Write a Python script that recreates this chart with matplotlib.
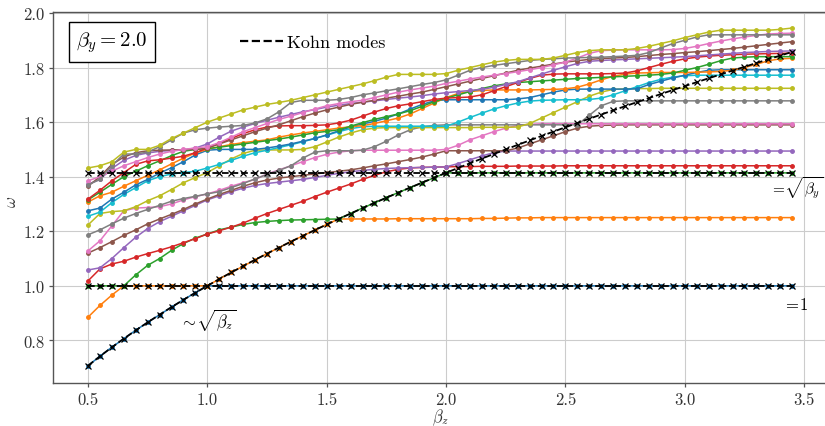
import numpy as np
import matplotlib
matplotlib.use("Agg")
import matplotlib.pyplot as plt
from matplotlib.lines import Line2D

plt.rcParams["font.family"] = "cmr10"
plt.rcParams["mathtext.fontset"] = "cm"
plt.rcParams["axes.unicode_minus"] = False
plt.rcParams["axes.formatter.use_mathtext"] = True

# trap anisotropy and sweep of beta_z
beta_y = 2.0
beta_z = np.linspace(0.5, 3.45, 60)

# collective mode frequencies omega(beta_z), one list per mode index
mode_00 = [0.707, 0.742, 0.775, 0.806, 0.837, 0.866, 0.894, 0.922, 0.949, 0.975,
           1.0, 1.0, 1.0, 1.0, 1.0, 1.0, 1.0, 1.0, 1.0, 1.0,
           1.0, 1.0, 1.0, 1.0, 1.0, 1.0, 1.0, 1.0, 1.0, 1.0,
           1.0, 1.0, 1.0, 1.0, 1.0, 1.0, 1.0, 1.0, 1.0, 1.0,
           1.0, 1.0, 1.0, 1.0, 1.0, 1.0, 1.0, 1.0, 1.0, 1.0,
           1.0, 1.0, 1.0, 1.0, 1.0, 1.0, 1.0, 1.0, 1.0, 1.0]
mode_01 = [0.885, 0.928, 0.966, 1.0, 1.0, 1.0, 1.0, 1.0, 1.0, 1.0,
           1.0, 1.025, 1.049, 1.072, 1.095, 1.118, 1.140, 1.162, 1.183, 1.204,
           1.225, 1.245, 1.245, 1.245, 1.245, 1.245, 1.246, 1.246, 1.246, 1.246,
           1.246, 1.246, 1.246, 1.247, 1.247, 1.248, 1.249, 1.249, 1.25, 1.25,
           1.25, 1.25, 1.25, 1.25, 1.25, 1.25, 1.25, 1.25, 1.25, 1.25,
           1.25, 1.25, 1.25, 1.25, 1.25, 1.25, 1.25, 1.25, 1.25, 1.25]
mode_02 = [1.0, 1.0, 1.0, 1.0, 1.04, 1.075, 1.10, 1.13, 1.155, 1.175,
           1.19, 1.205, 1.215, 1.225, 1.232, 1.236, 1.239, 1.241, 1.242, 1.243,
           1.244, 1.245, 1.265, 1.285, 1.304, 1.323, 1.342, 1.360, 1.378, 1.396,
           1.414, 1.414, 1.414, 1.414, 1.414, 1.414, 1.414, 1.414, 1.414, 1.414,
           1.414, 1.414, 1.414, 1.414, 1.414, 1.414, 1.414, 1.414, 1.414, 1.414,
           1.414, 1.414, 1.414, 1.414, 1.414, 1.414, 1.414, 1.414, 1.414, 1.414]
mode_03 = [1.018, 1.062, 1.08, 1.09, 1.105, 1.118, 1.13, 1.143, 1.158, 1.173,
           1.19, 1.202, 1.215, 1.23, 1.248, 1.265, 1.28, 1.295, 1.31, 1.327,
           1.343, 1.358, 1.373, 1.39, 1.405, 1.418, 1.427, 1.432, 1.434, 1.435,
           1.436, 1.437, 1.437, 1.438, 1.438, 1.438, 1.439, 1.439, 1.439, 1.439,
           1.44, 1.44, 1.44, 1.44, 1.44, 1.44, 1.44, 1.44, 1.44, 1.44,
           1.44, 1.44, 1.44, 1.44, 1.44, 1.44, 1.44, 1.44, 1.44, 1.44]
mode_04 = [1.058, 1.066, 1.10, 1.14, 1.178, 1.21, 1.235, 1.255, 1.275, 1.295,
           1.315, 1.33, 1.345, 1.358, 1.368, 1.375, 1.38, 1.385, 1.39, 1.397,
           1.405, 1.412, 1.418, 1.423, 1.427, 1.43, 1.432, 1.433, 1.434, 1.435,
           1.436, 1.448, 1.462, 1.476, 1.488, 1.494, 1.494, 1.494, 1.494, 1.494,
           1.494, 1.494, 1.494, 1.494, 1.494, 1.494, 1.494, 1.494, 1.494, 1.494,
           1.494, 1.494, 1.494, 1.494, 1.494, 1.494, 1.494, 1.494, 1.494, 1.494]
mode_05 = [1.12, 1.14, 1.162, 1.185, 1.205, 1.227, 1.245, 1.262, 1.28, 1.30,
           1.318, 1.335, 1.35, 1.365, 1.378, 1.388, 1.395, 1.40, 1.405, 1.41,
           1.415, 1.42, 1.425, 1.432, 1.44, 1.447, 1.455, 1.463, 1.472, 1.483,
           1.495, 1.495, 1.495, 1.495, 1.495, 1.495, 1.505, 1.52, 1.535, 1.55,
           1.565, 1.578, 1.585, 1.588, 1.589, 1.59, 1.59, 1.59, 1.59, 1.59,
           1.59, 1.59, 1.59, 1.59, 1.59, 1.59, 1.59, 1.59, 1.59, 1.59]
mode_06 = [1.128, 1.165, 1.22, 1.275, 1.285, 1.287, 1.29, 1.30, 1.315, 1.327,
           1.337, 1.35, 1.365, 1.378, 1.39, 1.41, 1.425, 1.44, 1.455, 1.47,
           1.482, 1.49, 1.495, 1.497, 1.497, 1.497, 1.497, 1.497, 1.497, 1.497,
           1.50, 1.515, 1.535, 1.55, 1.565, 1.578, 1.588, 1.592, 1.594, 1.594,
           1.594, 1.594, 1.594, 1.594, 1.594, 1.594, 1.594, 1.594, 1.594, 1.594,
           1.594, 1.594, 1.594, 1.594, 1.594, 1.594, 1.594, 1.594, 1.594, 1.594]
mode_07 = [1.187, 1.205, 1.227, 1.248, 1.265, 1.28, 1.295, 1.31, 1.32, 1.328,
           1.337, 1.345, 1.36, 1.375, 1.392, 1.408, 1.423, 1.44, 1.468, 1.49,
           1.495, 1.495, 1.495, 1.497, 1.51, 1.53, 1.553, 1.572, 1.583, 1.588,
           1.59, 1.59, 1.59, 1.59, 1.59, 1.59, 1.59, 1.59, 1.59, 1.59,
           1.59, 1.59, 1.625, 1.66, 1.676, 1.678, 1.678, 1.678, 1.678, 1.678,
           1.678, 1.678, 1.678, 1.678, 1.678, 1.678, 1.678, 1.678, 1.678, 1.678]
mode_08 = [1.223, 1.265, 1.272, 1.275, 1.29, 1.312, 1.33, 1.353, 1.378, 1.397,
           1.415, 1.44, 1.465, 1.485, 1.497, 1.498, 1.498, 1.498, 1.50, 1.51,
           1.527, 1.545, 1.56, 1.572, 1.578, 1.58, 1.58, 1.58, 1.58, 1.58,
           1.58, 1.58, 1.58, 1.581, 1.581, 1.581, 1.582, 1.595, 1.615, 1.635,
           1.655, 1.675, 1.695, 1.71, 1.72, 1.722, 1.723, 1.723, 1.724, 1.724,
           1.724, 1.724, 1.724, 1.724, 1.724, 1.724, 1.724, 1.724, 1.724, 1.724]
mode_09 = [1.255, 1.27, 1.305, 1.335, 1.36, 1.385, 1.40, 1.41, 1.415, 1.42,
           1.432, 1.445, 1.46, 1.475, 1.488, 1.497, 1.507, 1.517, 1.528, 1.54,
           1.552, 1.565, 1.576, 1.583, 1.585, 1.585, 1.585, 1.585, 1.585, 1.585,
           1.585, 1.60, 1.617, 1.633, 1.648, 1.66, 1.67, 1.677, 1.68, 1.681,
           1.682, 1.682, 1.683, 1.688, 1.70, 1.715, 1.73, 1.745, 1.757, 1.765,
           1.77, 1.772, 1.772, 1.772, 1.772, 1.772, 1.772, 1.772, 1.772, 1.772]
mode_10 = [1.275, 1.285, 1.318, 1.343, 1.37, 1.39, 1.413, 1.433, 1.455, 1.48,
           1.497, 1.50, 1.50, 1.50, 1.50, 1.505, 1.512, 1.52, 1.53, 1.54,
           1.553, 1.568, 1.582, 1.593, 1.603, 1.615, 1.63, 1.648, 1.665, 1.678,
           1.682, 1.682, 1.682, 1.682, 1.682, 1.682, 1.685, 1.69, 1.70, 1.71,
           1.718, 1.721, 1.721, 1.721, 1.721, 1.721, 1.722, 1.738, 1.75, 1.762,
           1.772, 1.782, 1.79, 1.792, 1.792, 1.792, 1.792, 1.792, 1.792, 1.792]
mode_11 = [1.307, 1.33, 1.343, 1.365, 1.385, 1.405, 1.425, 1.447, 1.468, 1.487,
           1.50, 1.51, 1.518, 1.525, 1.53, 1.535, 1.545, 1.553, 1.56, 1.566,
           1.572, 1.578, 1.583, 1.587, 1.595, 1.605, 1.615, 1.63, 1.65, 1.67,
           1.69, 1.705, 1.712, 1.716, 1.718, 1.718, 1.718, 1.718, 1.719, 1.72,
           1.722, 1.728, 1.74, 1.755, 1.768, 1.776, 1.78, 1.781, 1.782, 1.782,
           1.782, 1.783, 1.784, 1.786, 1.79, 1.80, 1.812, 1.825, 1.832, 1.834]
mode_12 = [1.315, 1.343, 1.372, 1.40, 1.42, 1.44, 1.458, 1.477, 1.493, 1.50,
           1.503, 1.508, 1.514, 1.52, 1.526, 1.532, 1.538, 1.545, 1.553, 1.561,
           1.566, 1.572, 1.585, 1.598, 1.61, 1.62, 1.63, 1.642, 1.658, 1.675,
           1.688, 1.70, 1.712, 1.723, 1.733, 1.74, 1.745, 1.748, 1.751, 1.754,
           1.757, 1.76, 1.762, 1.764, 1.766, 1.768, 1.77, 1.772, 1.775, 1.78,
           1.79, 1.80, 1.812, 1.825, 1.835, 1.838, 1.84, 1.84, 1.84, 1.84]
mode_13 = [1.318, 1.35, 1.385, 1.415, 1.445, 1.458, 1.462, 1.468, 1.475, 1.488,
           1.505, 1.522, 1.54, 1.558, 1.572, 1.582, 1.586, 1.587, 1.587, 1.588,
           1.59, 1.597, 1.607, 1.622, 1.637, 1.65, 1.66, 1.667, 1.675, 1.683,
           1.688, 1.69, 1.692, 1.70, 1.715, 1.73, 1.745, 1.76, 1.772, 1.776,
           1.777, 1.777, 1.777, 1.777, 1.778, 1.78, 1.788, 1.80, 1.812, 1.823,
           1.832, 1.838, 1.842, 1.845, 1.847, 1.849, 1.85, 1.851, 1.852, 1.853]
mode_14 = [1.372, 1.39, 1.43, 1.46, 1.478, 1.487, 1.493, 1.496, 1.498, 1.505,
           1.52, 1.545, 1.567, 1.582, 1.595, 1.607, 1.618, 1.628, 1.638, 1.646,
           1.655, 1.662, 1.668, 1.673, 1.678, 1.683, 1.688, 1.692, 1.697, 1.703,
           1.708, 1.712, 1.716, 1.72, 1.728, 1.738, 1.748, 1.762, 1.776, 1.79,
           1.803, 1.815, 1.823, 1.826, 1.828, 1.83, 1.832, 1.834, 1.836, 1.838,
           1.84, 1.843, 1.846, 1.849, 1.852, 1.855, 1.857, 1.859, 1.86, 1.861]
mode_15 = [1.365, 1.40, 1.445, 1.472, 1.488, 1.495, 1.497, 1.498, 1.499, 1.50,
           1.505, 1.52, 1.535, 1.55, 1.565, 1.578, 1.59, 1.605, 1.62, 1.633,
           1.645, 1.655, 1.665, 1.673, 1.68, 1.688, 1.695, 1.703, 1.71, 1.72,
           1.73, 1.74, 1.75, 1.76, 1.77, 1.78, 1.79, 1.798, 1.805, 1.813,
           1.82, 1.825, 1.83, 1.833, 1.835, 1.837, 1.84, 1.844, 1.848, 1.851,
           1.855, 1.858, 1.862, 1.866, 1.87, 1.875, 1.88, 1.885, 1.89, 1.895]
mode_16 = [1.385, 1.40, 1.42, 1.44, 1.455, 1.47, 1.483, 1.493, 1.50, 1.505,
           1.51, 1.525, 1.545, 1.565, 1.58, 1.595, 1.61, 1.622, 1.635, 1.648,
           1.66, 1.668, 1.675, 1.68, 1.69, 1.70, 1.71, 1.718, 1.725, 1.732,
           1.742, 1.75, 1.758, 1.765, 1.772, 1.778, 1.785, 1.792, 1.80, 1.81,
           1.82, 1.835, 1.852, 1.862, 1.864, 1.865, 1.865, 1.865, 1.865, 1.866,
           1.87, 1.878, 1.888, 1.897, 1.905, 1.912, 1.918, 1.923, 1.925, 1.926]
mode_17 = [1.37, 1.39, 1.44, 1.483, 1.483, 1.49, 1.51, 1.535, 1.56, 1.572,
           1.578, 1.582, 1.585, 1.588, 1.597, 1.612, 1.638, 1.672, 1.68, 1.68,
           1.68, 1.683, 1.69, 1.70, 1.707, 1.715, 1.722, 1.73, 1.738, 1.745,
           1.755, 1.772, 1.79, 1.80, 1.808, 1.814, 1.82, 1.826, 1.83, 1.832,
           1.835, 1.836, 1.837, 1.838, 1.84, 1.842, 1.845, 1.855, 1.872, 1.888,
           1.90, 1.912, 1.92, 1.92, 1.92, 1.92, 1.92, 1.92, 1.92, 1.92]
mode_18 = [1.432, 1.44, 1.455, 1.49, 1.50, 1.50, 1.515, 1.54, 1.56, 1.58,
           1.60, 1.615, 1.63, 1.645, 1.655, 1.665, 1.672, 1.68, 1.69, 1.70,
           1.71, 1.72, 1.73, 1.74, 1.752, 1.765, 1.775, 1.775, 1.775, 1.775,
           1.778, 1.79, 1.80, 1.81, 1.82, 1.826, 1.83, 1.83, 1.83, 1.835,
           1.845, 1.855, 1.862, 1.865, 1.865, 1.865, 1.87, 1.878, 1.888, 1.898,
           1.91, 1.92, 1.93, 1.937, 1.937, 1.937, 1.937, 1.937, 1.94, 1.945]

modes = [mode_00, mode_01, mode_02, mode_03, mode_04, mode_05, mode_06,
         mode_07, mode_08, mode_09, mode_10, mode_11, mode_12, mode_13,
         mode_14, mode_15, mode_16, mode_17, mode_18]

# Kohn modes: omega = 1, omega = sqrt(beta_y), omega = sqrt(beta_z)
kohn_unit = np.ones_like(beta_z)
kohn_y = np.full_like(beta_z, np.sqrt(beta_y))
kohn_z = np.sqrt(beta_z)

x_ticks = [0.5, 1.0, 1.5, 2.0, 2.5, 3.0, 3.5]
y_ticks = [0.8, 1.0, 1.2, 1.4, 1.6, 1.8, 2.0]

palette = plt.get_cmap("tab10").colors

fig = plt.figure(figsize=(8.25, 4.27), dpi=100)
ax = fig.add_axes([52.8 / 825, 43 / 427, 774.6 / 825, 371 / 427])

for k, omega in enumerate(modes):
    ax.plot(beta_z, omega, color=palette[k % 10], lw=1.1, marker="o",
            ms=2.5, zorder=2)

for kohn in (kohn_unit, kohn_y, kohn_z):
    ax.plot(beta_z, kohn, color="k", ls="--", lw=1.3, marker="x", ms=4.5,
            mew=0.9, zorder=3)

ax.set_xlim(0.3525, 3.5975)
ax.set_ylim(0.6437, 2.0037)
ax.set_xticks(x_ticks)
ax.set_yticks(y_ticks)
ax.set_xticklabels([f"{v:.1f}" for v in x_ticks])
ax.set_yticklabels([f"{v:.1f}" for v in y_ticks])

ax.grid(True, color="#cccccc", lw=0.8, zorder=0)
ax.set_axisbelow(True)
for side in ("left", "bottom", "top"):
    ax.spines[side].set_color("#555555")
    ax.spines[side].set_linewidth(1.0)
ax.spines["right"].set_visible(False)
ax.tick_params(direction="out", length=3, width=0.9, color="#555555",
               labelsize=12, labelcolor="#333333", pad=3)

ax.set_xlabel(r"$\beta_z$", fontsize=12, labelpad=0, color="#333333")
ax.set_ylabel(r"$\omega$", fontsize=12, color="#333333")
ax.yaxis.set_label_coords(-0.043, 0.49)

ax.text(0.0764, 0.919, r"$\beta_y = 2.0$", transform=ax.transAxes,
        fontsize=15, ha="center", va="center",
        bbox=dict(boxstyle="square,pad=0.35", fc="white", ec="black", lw=1.0))

handle = Line2D([], [], color="k", ls="--", lw=1.6)
ax.legend([handle], ["Kohn modes"], loc="center left",
          bbox_to_anchor=(0.2417, 0.919), frameon=False, fontsize=13,
          handlelength=2.4, handletextpad=0.2, borderpad=0, borderaxespad=0)

ax.text(3.355, 1.362, r"$=\!\sqrt{\beta_y}$", fontsize=11, ha="left",
        va="center")
ax.text(3.41, 0.933, r"$=\!1$", fontsize=12, ha="left", va="center")
ax.text(0.885, 0.878, r"$\sim\!\sqrt{\beta_z}$", fontsize=12, ha="left",
        va="center")

fig.savefig("out.png", dpi=100)
